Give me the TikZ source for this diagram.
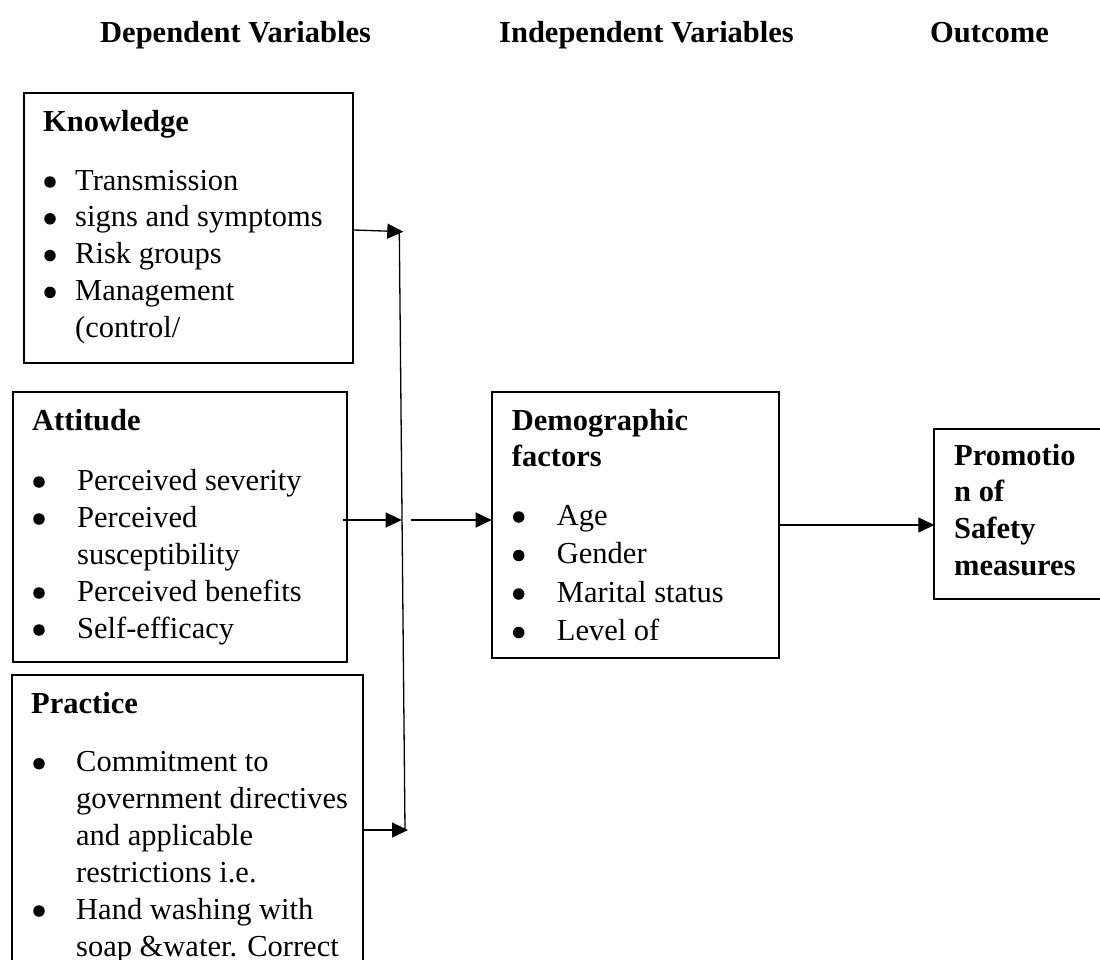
\documentclass[tikz,border=0pt]{standalone}
\usepackage{fontspec}
\setmainfont{Liberation Serif}
\usetikzlibrary{arrows.meta}
\newcommand\bitem[5]{%
  \node[bul] (#1b) at (#2,#4-8) {};
  \node[txt] (#1) at (#3,#4) {#5};}
\begin{document}
\begin{tikzpicture}[x=1pt,y=-1pt,
  box/.style={draw, line width=1.8pt, inner sep=0pt, outer sep=0pt, anchor=north west},
  txt/.style={inner sep=0pt, anchor=base west, font=\fontsize{30.5}{36}\selectfont},
  hd/.style={txt, font=\fontsize{30.5}{36}\selectfont\bfseries},
  bul/.style={circle, fill=black, inner sep=0pt, minimum size=11.5pt},
  conn/.style={line width=1.3pt},
  arr/.style={conn, -{Triangle[length=16pt,width=15pt]}}]
\useasboundingbox (0,0) rectangle (1100,959);
\clip (0,0) rectangle (1100,959);
\fill[white] (0,0) rectangle (1100,959);

% column headings
\node[hd] (h1) at (100,42) {Dependent Variables};
\node[hd] (h2) at (499,42) {Independent Variables};
\node[hd] (h3) at (930,42) {Outcome};

% boxes
\node[box, minimum width=329pt, minimum height=270.5pt] (know) at (24,92.7) {};
\node[box, minimum width=334pt, minimum height=270pt] (att) at (12.7,391.7) {};
\node[box, minimum width=351.6pt, minimum height=340pt] (prac) at (11.7,675) {};
\node[box, minimum width=287.3pt, minimum height=266.6pt] (demo) at (491.7,391.7) {};
\node[box, minimum width=200pt, minimum height=170.3pt] (promo) at (934.3,429) {};

% Knowledge
\node[hd] (kh) at (43,131.7) {Knowledge};
\bitem{k1}{50}{75}{190}{Transmission}
\bitem{k2}{50}{75}{226.8}{signs and symptoms}
\bitem{k3}{50}{75}{263.6}{Risk groups}
\bitem{k4}{50}{75}{300.4}{Management}
\node[txt] (k5) at (75,337.2) {(control/};

% Attitude
\node[hd] (ah) at (32,430) {Attitude};
\bitem{a1}{39}{77}{490}{Perceived severity}
\bitem{a2}{39}{77}{527}{Perceived}
\node[txt] (a3) at (77,564) {susceptibility};
\bitem{a4}{39}{77}{601}{Perceived benefits}
\bitem{a5}{39}{77}{638}{Self-efficacy}

% Practice
\node[hd] (ph) at (31,713) {Practice};
\bitem{p1}{39}{76}{771.7}{Commitment to}
\node[txt] (p2) at (76,808.5) {government directives};
\node[txt] (p3) at (76,845.3) {and applicable};
\node[txt] (p4) at (76,882) {restrictions i.e.};
\bitem{p5}{39}{76}{919}{Hand washing with}
\node[txt] (p6) at (76,956) {soap \&water. Correct};

% Demographic
\node[hd] (dh1) at (511.7,430) {Demographic};
\node[hd] (dh2) at (511.7,466.7) {factors};
\bitem{d1}{518.7}{556.7}{525}{Age}
\bitem{d2}{518.7}{556.7}{563.5}{Gender}
\bitem{d3}{518.7}{556.7}{602}{Marital status}
\bitem{d4}{518.7}{556.7}{640.5}{Level of}

% Outcome
\node[hd] (o1) at (954,465) {Promotio};
\node[hd] (o2) at (954,501.7) {n of};
\node[hd] (o3) at (954,538.3) {Safety};
\node[hd] (o4) at (954,575) {measures};

% connectors
\coordinate (j1) at (403.3,231.7);
\coordinate (j2) at (401.7,520);
\coordinate (j3) at (408,830);
\coordinate (vtop) at (399.3,231);
\coordinate (vbot) at (405,830);
\coordinate (s3) at (410.7,520);

\draw[conn] (vtop) -- (vbot);
\draw[arr] ([yshift=-2pt]know.east) -- (j1);
\draw[arr] ([xshift=-4pt]att.east |- j2) -- (j2);
\draw[arr] (prac.east |- j3) -- (j3);
\draw[arr] (s3) -- (demo.west |- s3);
\draw[arr] (demo.east) -- (promo.west |- demo.east);
\end{tikzpicture}
\end{document}
